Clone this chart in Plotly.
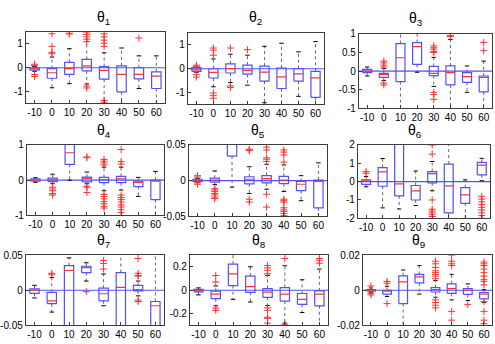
import plotly.graph_objects as go

ANGLES = ['-10', '0', '10', '20', '30', '40', '50', '60']

# per-panel box statistics: q1, median, q3, whisker ends, outliers
theta1 = dict(
    q1=[-0.10, -0.44, -0.28, -0.13, -0.48, -1.01, -0.47, -0.87],
    med=[-0.05, -0.21, -0.04, 0.08, -0.11, -0.28, -0.28, -0.35],
    q3=[0.0, -0.04, 0.23, 0.35, 0.05, 0.08, 0.0, -0.17],
    lo=[-0.15, -0.84, -0.67, -0.68, -1.6, -1.6, -0.87, -1.6],
    hi=[0.05, 0.45, 0.80, 1.6, 0.63, 0.83, 0.50, 0.50],
    out=[[0.15, 0.10, -0.28, -0.37], [1.43, 0.90, 0.65, 0.59], [1.45, 1.42],
         [1.5, 1.4, 1.3, 1.2, 1.1, -0.77, -0.85], [1.43, 1.3, 1.16, 1.03, 0.9, -1.37, -1.45, -1.5],
         [], [1.25], []])
theta2 = dict(
    q1=[-0.11, -0.39, -0.18, -0.23, -0.52, -0.83, -0.52, -1.20],
    med=[-0.05, -0.15, 0.01, -0.07, -0.14, -0.34, -0.22, -0.38],
    q3=[0.05, 0.0, 0.20, 0.15, 0.11, 0.03, 0.0, -0.11],
    lo=[-0.15, -0.76, -0.58, -0.69, -1.43, -1.6, -1.16, -1.6],
    hi=[0.07, 0.41, 0.61, 0.57, 0.94, 1.07, 0.71, 1.14],
    out=[[0.15, 0.10, -0.25, -0.35], [0.87, 0.78, 0.57, -1.02, -1.13, -1.24], [0.87, -0.72, -0.79],
         [0.80], [], [], [], []])
theta3 = dict(
    q1=[-0.04, -0.17, -0.28, 0.18, -0.12, -0.37, -0.30, -0.56],
    med=[0.0, -0.09, 0.36, 0.66, -0.06, -0.04, -0.15, -0.17],
    q3=[0.05, -0.06, 0.74, 0.77, 0.13, 0.14, -0.04, -0.13],
    lo=[-0.13, -0.25, -1.1, -0.03, -0.41, -1.1, -0.57, -1.1],
    hi=[0.11, 0.07, 1.1, 1.1, 0.37, 0.85, 0.14, 0.27],
    out=[[], [0.27, 0.22, 0.16, 0.11, -0.32, -0.37], [],
         [], [0.68, 0.63, 0.59, 0.53, 0.50, -0.57, -0.63, -0.76],
         [0.96, 0.93], [], [0.77, 0.55]])
theta4 = dict(
    q1=[-0.03, -0.04, 0.45, -0.05, -0.07, -0.07, -0.18, -0.55],
    med=[0.0, 0.01, 0.78, 0.05, 0.02, 0.04, -0.06, -0.03],
    q3=[0.04, 0.06, 1.05, 0.09, 0.08, 0.11, -0.03, 0.0],
    lo=[-0.06, -0.10, 0.0, -0.10, -0.30, -0.28, -0.46, -1.1],
    hi=[0.07, 0.17, 1.1, 0.23, 0.37, 0.37, 0.08, 0.25],
    out=[[], [-0.20, -0.25, -0.30, -0.38, -0.42], [],
         [0.66, 0.64, -0.17, -0.20, -0.35],
         [0.59, 0.54, 0.49, 0.43, -0.40, -0.46, -0.53, -0.61, -0.67, -0.74, -0.79],
         [0.87, 0.53, 0.46, -0.42, -0.49, -0.55, -0.62, -0.70, -0.76, -0.84, -0.92],
         [], []])
theta5 = dict(
    q1=[-0.001, -0.002, 0.0345, -0.0045, -0.003, -0.004, -0.014, -0.038],
    med=[0.001, 0.001, 0.06, 0.002, 0.003, 0.001, -0.005, -0.001],
    q3=[0.002, 0.0036, 0.07, 0.0055, 0.007, 0.006, -0.001, 0.001],
    lo=[-0.002, -0.0055, -0.009, -0.018, -0.012, -0.015, -0.028, -0.06],
    hi=[0.003, 0.0136, 0.07, 0.0195, 0.023, 0.022, 0.007, 0.025],
    out=[[0.007, 0.005, -0.003, -0.005],
         [-0.011, -0.013, -0.015, -0.018, -0.020, -0.023, -0.025], [],
         [0.044, 0.043, 0.042, -0.026, -0.030],
         [0.047, 0.043, 0.032, 0.030, 0.027, -0.019, -0.037, -0.050],
         [0.043, 0.040, 0.036, 0.026, -0.026, -0.028, -0.030, -0.038, -0.041, -0.043, -0.046, -0.049],
         [], []])
theta6 = dict(
    q1=[-0.15, -0.25, -0.78, -1.0, -0.07, -1.70, -1.18, 0.37],
    med=[0.05, 0.53, -0.12, -0.50, 0.44, -0.23, -0.72, 0.90],
    q3=[0.10, 0.76, 2.2, -0.21, 0.55, 0.96, -0.33, 1.05],
    lo=[-0.28, -1.43, -1.49, -1.30, -0.50, -2.2, -2.2, 0.05],
    hi=[0.28, 1.26, 2.2, 0.58, 1.10, 2.2, 0.10, 1.27],
    out=[[0.55, 0.46], [], [], [],
         [2.0, 1.5, -1.0, -1.5, -1.6, -1.7, -1.8, -1.9],
         [], [],
         [-0.80, -0.95, -1.10, -1.25, -1.40, -1.55, -1.70, -1.85, -2.0]])
theta7 = dict(
    q1=[-0.0045, -0.019, -0.06, 0.025, -0.015, -0.06, -0.001, -0.06],
    med=[0.0, -0.015, 0.028, 0.032, -0.005, 0.004, 0.001, -0.022],
    q3=[0.002, -0.003, 0.035, 0.034, 0.003, 0.025, 0.007, -0.016],
    lo=[-0.011, -0.031, -0.06, 0.013, -0.022, -0.06, -0.008, -0.06],
    hi=[0.007, 0.018, 0.046, 0.039, 0.023, 0.06, 0.013, 0.06],
    out=[[], [0.024, 0.022], [], [-0.002], [0.042, 0.038, 0.030], [],
         [0.045, 0.024, 0.021, 0.020, -0.014, -0.016], []])
theta8 = dict(
    q1=[-0.014, -0.072, 0.039, -0.019, -0.061, -0.092, -0.12, -0.133],
    med=[-0.005, -0.033, 0.14, 0.03, -0.017, -0.033, -0.078, -0.033],
    q3=[0.008, -0.008, 0.222, 0.12, 0.014, 0.022, -0.028, -0.006],
    lo=[-0.04, -0.133, -0.078, -0.10, -0.13, -0.28, -0.19, -0.35],
    hi=[0.02, 0.036, 0.35, 0.20, 0.125, 0.208, 0.089, 0.18],
    out=[[], [0.125, 0.07, -0.153, -0.172], [], [],
         [0.21, 0.19, 0.17, 0.14, -0.15, -0.17, -0.23, -0.24, -0.28],
         [0.27, -0.29], [], [0.27, 0.255, 0.23]])
theta9 = dict(
    q1=[-0.0005, -0.0022, -0.0076, 0.0042, -0.001, -0.0018, -0.0024, -0.0049],
    med=[0.0, -0.0005, 0.0047, 0.0076, 0.0004, 0.0009, 0.0, -0.0022],
    q3=[0.0004, 0.0, 0.0082, 0.009, 0.0015, 0.0036, 0.0009, -0.0013],
    lo=[-0.0012, -0.0036, -0.025, -0.0022, -0.004, -0.0055, -0.0058, -0.007],
    hi=[0.0013, 0.0022, 0.0115, 0.014, 0.0055, 0.009, 0.0036, 0.0003],
    out=[[0.0024, -0.0018, -0.0027], [0.005, 0.004, -0.0076], [], [],
         [0.0165, 0.015, 0.013, 0.011, 0.010, 0.009, 0.008, 0.0065, -0.0055, -0.007, -0.0085, -0.010],
         [0.02, 0.0165, 0.015, 0.014, -0.012, -0.017],
         [-0.0082],
         [0.016, 0.015, 0.014, 0.012, 0.010, 0.008, 0.006, 0.005, 0.003, -0.0065, -0.012, -0.017, -0.019]])

PANELS = [theta1, theta2, theta3, theta4, theta5, theta6, theta7, theta8, theta9]
YRANGES = [[-1.5, 1.5], [-1.5, 1.5], [-1, 1], [-1, 1], [-0.05, 0.05],
           [-2, 2], [-0.05, 0.05], [-0.3, 0.3], [-0.02, 0.02]]
YTICKS = [[-1, 0, 1], [-1, 0, 1], [-1, -0.5, 0, 0.5, 1], [-1, 0, 1], [-0.05, 0, 0.05],
          [-2, -1, 0, 1, 2], [-0.05, 0, 0.05], [-0.2, 0, 0.2], [-0.02, 0, 0.02]]

# panel boxes in pixels: left, right, top, bottom
BOXES = [(23, 163, 27, 101), (186, 323, 28, 102), (358, 492, 29, 106),
         (24, 162, 144, 217), (187, 326, 144, 218), (357, 490, 144, 220),
         (23, 162, 258, 331), (188, 327, 258, 331), (362, 492, 258, 331)]
TITLE_Y = [12, 12, 13, 130, 130, 130, 244, 244, 244]

W, H = 495, 344
BLUE = 'rgb(80,80,255)'
RED = 'rgb(255,50,50)'
HW = 0.27  # box half width
CAP = 0.13

fig = go.Figure()
for k, (p, box) in enumerate(zip(PANELS, BOXES)):
    n = k + 1
    xa = 'x' if n == 1 else f'x{n}'
    ya = 'y' if n == 1 else f'y{n}'
    pos = list(range(len(ANGLES)))

    wx, wy, cx, cy, bx, by, mx, my, ox, oy = [], [], [], [], [], [], [], [], [], []
    for i in pos:
        wx += [i, i, None, i, i, None]
        wy += [p['q3'][i], p['hi'][i], None, p['q1'][i], p['lo'][i], None]
        cx += [i - CAP, i + CAP, None, i - CAP, i + CAP, None]
        cy += [p['hi'][i], p['hi'][i], None, p['lo'][i], p['lo'][i], None]
        bx += [i - HW, i + HW, i + HW, i - HW, i - HW, None]
        by += [p['q1'][i], p['q1'][i], p['q3'][i], p['q3'][i], p['q1'][i], None]
        mx += [i - HW, i + HW, None]
        my += [p['med'][i], p['med'][i], None]
        ox += [i] * len(p['out'][i])
        oy += p['out'][i]

    fig.add_trace(go.Scatter(x=wx, y=wy, mode='lines', xaxis=xa, yaxis=ya,
                             line=dict(color='rgb(100,100,100)', width=1, dash='dot')))
    fig.add_trace(go.Scatter(x=cx, y=cy, mode='lines', xaxis=xa, yaxis=ya,
                             line=dict(color='black', width=1)))
    fig.add_trace(go.Scatter(x=bx, y=by, mode='lines', xaxis=xa, yaxis=ya,
                             line=dict(color=BLUE, width=1.2)))
    fig.add_trace(go.Scatter(x=mx, y=my, mode='lines', xaxis=xa, yaxis=ya,
                             line=dict(color=RED, width=1.2)))
    fig.add_trace(go.Scatter(x=ox, y=oy, mode='markers', xaxis=xa, yaxis=ya,
                             cliponaxis=True,
                             marker=dict(symbol='cross-thin', size=5,
                                         line=dict(color=RED, width=1))))
    fig.add_shape(type='line', xref=f'{xa} domain', yref=ya, x0=0, x1=1, y0=0, y1=0,
                  line=dict(color=BLUE, width=1.2), layer='below')

    l, r, t, b = box
    axis = dict(showline=True, mirror=True, linecolor='rgb(60,60,60)', linewidth=1,
                showgrid=False, zeroline=False, ticks='inside', ticklen=3,
                tickcolor='rgb(60,60,60)', tickfont=dict(size=10, color='black'))
    fig.layout[f'xaxis{"" if n == 1 else n}'] = dict(
        axis, domain=[l / W, r / W], anchor=ya, range=[-0.5, 7.5],
        tickvals=pos, ticktext=ANGLES)
    fig.layout[f'yaxis{"" if n == 1 else n}'] = dict(
        axis, domain=[1 - b / H, 1 - t / H], anchor=xa, range=YRANGES[k],
        tickvals=YTICKS[k], ticktext=[f'{v:g}' for v in YTICKS[k]])
    fig.add_annotation(text=f'θ<sub>{n}</sub>', xref='paper', yref='paper',
                       x=(l + r) / 2 / W, y=1 - TITLE_Y[k] / H, showarrow=False,
                       font=dict(size=14, color='black'), yanchor='middle')

fig.update_layout(width=W, height=H, margin=dict(l=0, r=0, t=0, b=0),
                  showlegend=False, paper_bgcolor='white', plot_bgcolor='white',
                  font=dict(family='Liberation Sans, Arial, sans-serif'))
fig.write_html('out.html', config={'displayModeBar': False},
               post_script="document.body.style.margin='0px';")
